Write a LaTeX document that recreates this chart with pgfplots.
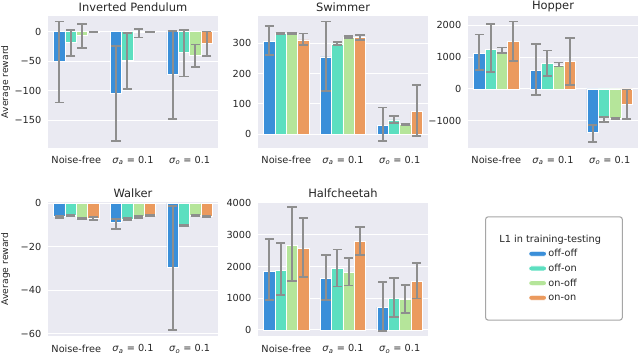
\documentclass[border=0pt]{standalone}
\usepackage{pgfplots}
\pgfplotsset{compat=1.18}
\usepackage{fontspec}
\setmainfont{DejaVu Sans}
\definecolor{bgc}{HTML}{EAEAF2}
\definecolor{c1}{HTML}{3A8FD9}
\definecolor{c2}{HTML}{5CDFC0}
\definecolor{c3}{HTML}{B5E59A}
\definecolor{c4}{HTML}{EB9A5E}
\definecolor{txt}{HTML}{262626}
\definecolor{errc}{HTML}{8E8E8E}
\newcommand{\sa}{\textit{σ}\textsubscript{\textit{a}} = 0.1}
\newcommand{\so}{\textit{σ}\textsubscript{\textit{o}} = 0.1}
\pgfplotsset{
  sb/.style={
    scale only axis, width=127.5pt,
    axis background/.style={fill=bgc},
    axis line style={draw=none},
    ymajorgrids, xmajorgrids=false,
    major grid style={white, line width=0.8pt},
    major tick length=0pt,
    xmin=-0.5, xmax=2.5,
    xtick={0,1,2}, xticklabels={Noise-free,\sa,\so},
    ticklabel style={font=\fontsize{7.3}{9}\selectfont, text=txt},
    xticklabel style={yshift=-3pt},
    yticklabel style={xshift=-1.5pt},
    /pgf/number format/assume math mode=true,
    title style={font=\fontsize{8.6}{10}\selectfont, text=txt, at={(0.5,1)}, anchor=south, yshift=-6.4pt},
    ylabel style={font=\fontsize{6.9}{8}\selectfont, text=txt, at={(axis description cs:-0.25,0.5)}, anchor=center, rotate=0},
    ybar, bar width=0.2, bar shift=0pt,
    every axis plot/.append style={draw=white, line width=0.6pt,
      legend image code/.code={\fill[##1] (0pt,-1.9pt) rectangle (13.5pt,1.9pt);},
      /pgfplots/error bars/y dir=both, /pgfplots/error bars/y explicit,
      /pgfplots/error bars/error bar style={errc, line width=1.3pt},
      /pgfplots/error bars/error mark options={errc, rotate=90, line width=1.3pt, mark size=3.4pt}},
  }
}
\begin{document}
\begin{tikzpicture}
\useasboundingbox (0,0) rectangle (480pt,264.75pt);
% Inverted Pendulum
\begin{axis}[sb, at={(36pt,154.1pt)}, anchor=south west, height=98.6pt,
  title={Inverted Pendulum}, ylabel={Average reward},
  ymin=-196, ymax=26, ytick={-150,-100,-50,0}, yticklabels={−150,−100,−50,0}]
\addplot[fill=c1] coordinates {(-0.3,-50) += (0,67) -= (0,70) (0.7,-104) += (0,80) -= (0,81) (1.7,-73) += (0,74) -= (0,75)};
\addplot[fill=c2] coordinates {(-0.1,-18) += (0,21) -= (0,23) (0.9,-49) += (0,47) -= (0,48) (1.9,-35) += (0,37) -= (0,41)};
\addplot[fill=c3] coordinates {(0.1,-6) += (0,18) -= (0,22) (1.1,-2) += (0,6) -= (0,8) (2.1,-40) += (0,18) -= (0,20)};
\addplot[fill=c4] coordinates {(0.3,-1) += (0,0.5) -= (0,0.5) (1.3,-1) += (0,0.5) -= (0,0.5) (2.3,-21) += (0,21) -= (0,20)};
\end{axis}
% Swimmer
\begin{axis}[sb, at={(193.5pt,154.1pt)}, anchor=south west, height=98.6pt,
  title={Swimmer},
  ymin=-44, ymax=390, ytick={0,100,200,300}, yticklabels={0,100,200,300}]
\addplot[fill=c1] coordinates {(-0.3,305) += (0,53) -= (0,44) (0.7,255) += (0,117) -= (0,112) (1.7,28) += (0,60) -= (0,51)};
\addplot[fill=c2] coordinates {(-0.1,333) += (0,2) -= (0,2) (0.9,298) += (0,6) -= (0,3) (1.9,47) += (0,13) -= (0,10)};
\addplot[fill=c3] coordinates {(0.1,332) += (0,1) -= (0,1) (1.1,320) += (0,3) -= (0,2) (2.1,32) += (0,2) -= (0,2)};
\addplot[fill=c4] coordinates {(0.3,311) += (0,21) -= (0,16) (1.3,318) += (0,9) -= (0,6) (2.3,76) += (0,87) -= (0,81)};
\end{axis}
% Hopper
\begin{axis}[sb, at={(351pt,154.1pt)}, anchor=south west, height=98.6pt,
  title={Hopper},
  ymin=-1844, ymax=2292, ytick={-1000,0,1000,2000}, yticklabels={−1000,0,1000,2000}]
\addplot[fill=c1] coordinates {(-0.3,1104) += (0,604) -= (0,500) (0.7,583) += (0,823) -= (0,781) (1.7,-1375) += (0,240) -= (0,292)};
\addplot[fill=c2] coordinates {(-0.1,1250) += (0,792) -= (0,729) (0.9,812) += (0,396) -= (0,395) (1.9,-910) += (0,20) -= (0,140)};
\addplot[fill=c3] coordinates {(0.1,1156) += (0,146) -= (0,21) (1.1,729) += (0,104) -= (0,21) (2.1,-927) += (0,17) -= (0,13)};
\addplot[fill=c4] coordinates {(0.3,1490) += (0,635) -= (0,615) (1.3,854) += (0,750) -= (0,729) (2.3,-490) += (0,469) -= (0,468)};
\end{axis}
% Walker
\begin{axis}[sb, at={(36pt,12.75pt)}, anchor=south west, height=100.5pt,
  title={Walker}, ylabel={Average reward},
  ymin=-61.1, ymax=0.5, ytick={-60,-40,-20,0}, yticklabels={−60,−40,−20,0}]
\addplot[fill=c1] coordinates {(-0.3,-6.3) += (0,0.5) -= (0,0.5) (0.7,-9) += (0,1.7) -= (0,2.8) (1.7,-29.5) += (0,28) -= (0,28.7)};
\addplot[fill=c2] coordinates {(-0.1,-5.7) += (0,0.3) -= (0,0.3) (0.9,-7.4) += (0,0.4) -= (0,0.4) (1.9,-10.3) += (0,0.4) -= (0,0.4)};
\addplot[fill=c3] coordinates {(0.1,-6.9) += (0,0.3) -= (0,0.3) (1.1,-6.3) += (0,0.4) -= (0,0.4) (2.1,-5.8) += (0,0.4) -= (0,0.4)};
\addplot[fill=c4] coordinates {(0.3,-7.0) += (0,0.5) -= (0,0.8) (1.3,-5.8) += (0,0.4) -= (0,0.4) (2.3,-6.2) += (0,0.4) -= (0,0.4)};
\end{axis}
% Halfcheetah
\begin{axis}[sb, at={(193.5pt,12.75pt)}, anchor=south west, height=100.5pt,
  title={Halfcheetah},
  ymin=-190, ymax=4030, ytick={0,1000,2000,3000,4000}, yticklabels={0,1000,2000,3000,4000},
  legend cell align=left,
  legend style={at={(1.741,0.504)}, anchor=center, draw=black!35, line width=0.8pt,
    rounded corners=2pt, fill=white, font=\fontsize{7.3}{9}\selectfont, text=txt,
    inner xsep=32pt, inner ysep=11.5pt, row sep=0.5pt,
    nodes={inner sep=1pt, text height=6.5pt, text depth=2pt}}]
\addlegendimage{empty legend}
\addlegendentry{\hspace*{-36.75pt}L1 in training-testing\hspace*{-17pt}}
\addplot[fill=c1] coordinates {(-0.3,1851) += (0,1011) -= (0,904) (0.7,1628) += (0,734) -= (0,692) (1.7,723) += (0,798) -= (0,753)};
\addlegendentry{off-off}
\addplot[fill=c2] coordinates {(-0.1,1883) += (0,862) -= (0,777) (0.9,1926) += (0,606) -= (0,554) (1.9,1000) += (0,638) -= (0,596)};
\addlegendentry{off-on}
\addplot[fill=c3] coordinates {(0.1,2670) += (0,1192) -= (0,1138) (1.1,1798) += (0,468) -= (0,394) (2.1,947) += (0,468) -= (0,404)};
\addlegendentry{on-off}
\addplot[fill=c4] coordinates {(0.3,2574) += (0,958) -= (0,904) (1.3,2777) += (0,457) -= (0,426) (2.3,1521) += (0,585) -= (0,532)};
\addlegendentry{on-on}
\end{axis}
\end{tikzpicture}
\end{document}
